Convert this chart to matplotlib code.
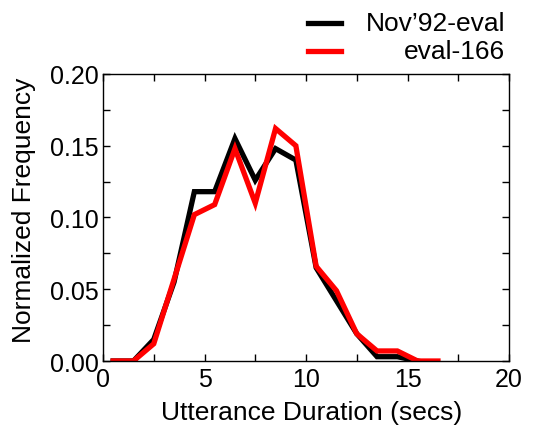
import numpy as np
import matplotlib.pyplot as plt
from matplotlib.lines import Line2D
from matplotlib.ticker import MultipleLocator

plt.rcParams['font.family'] = ['Liberation Sans', 'DejaVu Sans']

# histogram bin centres (secs) and normalized frequencies
dur_nov92 = [0.5, 1.5, 2.5, 3.5, 4.5, 5.5, 6.5, 7.5, 8.5, 9.5, 10.5, 11.5, 12.5, 13.5, 14.5, 15.5]
freq_nov92 = [0.0, 0.0, 0.015, 0.055, 0.118, 0.118, 0.155, 0.126, 0.148, 0.140,
              0.065, 0.042, 0.019, 0.003, 0.003, 0.0]
dur_eval166 = [0.5, 1.5, 2.5, 3.5, 4.5, 5.5, 6.5, 7.5, 8.5, 9.5, 10.5, 11.5, 12.5, 13.5, 14.5, 15.5, 16.5]
freq_eval166 = [0.0, 0.0, 0.012, 0.057, 0.102, 0.109, 0.148, 0.110, 0.162, 0.150,
                0.066, 0.049, 0.019, 0.007, 0.007, 0.0, 0.0]

fig = plt.figure(figsize=(5.37, 4.27), dpi=100)
ax = fig.add_axes([0.1918, 0.1522, 0.7561, 0.6722])

ax.plot(dur_nov92, freq_nov92, color='black', lw=3.8, solid_joinstyle='miter')
ax.plot(dur_eval166, freq_eval166, color='#ff0000', lw=3.8, solid_joinstyle='miter')

ax.set_xlim(0, 20)
ax.set_ylim(0, 0.20)
ax.xaxis.set_major_locator(MultipleLocator(5))
ax.xaxis.set_minor_locator(MultipleLocator(2.5))
ax.yaxis.set_major_locator(MultipleLocator(0.05))
ax.yaxis.set_minor_locator(MultipleLocator(0.025))
ax.yaxis.set_major_formatter(plt.FormatStrFormatter('%.2f'))
ax.tick_params(which='both', direction='in', top=True, right=True, length=5, width=1, labelsize=18)
ax.tick_params(axis='y', pad=3)
ax.tick_params(axis='x', pad=4)
for s in ax.spines.values():
    s.set_linewidth(1)

ax.set_xlabel('Utterance Duration (secs)', fontsize=19, va='center')
ax.set_ylabel('Normalized Frequency', fontsize=19, va='center')
ax.xaxis.set_label_coords(0.515, -0.178)
ax.yaxis.set_label_coords(-0.195, 0.528)

# legend drawn above the axes, text right-aligned
W, H = 537, 427
for y, c, lab in [(24, 'black', 'Nov\u201992-eval'), (52, '#ff0000', 'eval-166')]:
    fig.add_artist(Line2D([308 / W, 341 / W], [1 - y / H, 1 - y / H], color=c, lw=3.8))
    fig.text(505 / W, 1 - y / H, lab, ha='right', va='center', fontsize=19)

fig.savefig('out.png', dpi=100)
